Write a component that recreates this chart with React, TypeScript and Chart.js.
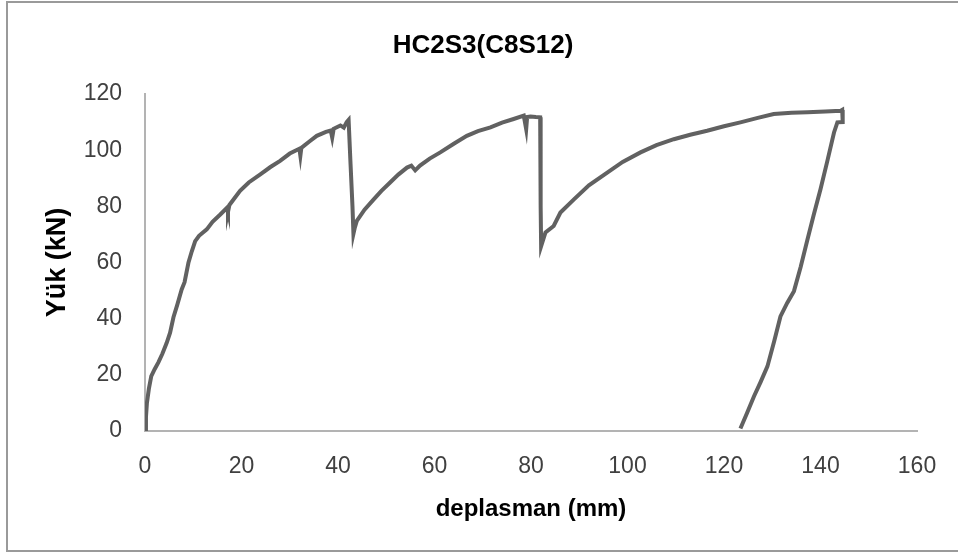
import React, { useEffect, useRef } from "react";
import { Chart, registerables } from "chart.js";

Chart.register(...registerables);

const chartTitle = "HC2S3(C8S12)";
const xAxisTitle = "deplasman (mm)";
const yAxisTitle = "Yük (kN)";

const xTicks = { min: 0, max: 160, step: 20 };
const yTicks = { min: 0, max: 120, step: 20 };

// displacement (mm)
const deplasman = [
  0, 0.2, 0.4, 0.8, 1.3, 2.0, 2.8, 3.6, 4.5, 5.2, 5.9, 6.7, 7.6, 8.2, 9.0, 9.7, 10.4, 11.2, 12.8, 14.0,
  15.6, 17.0, 17.2, 17.5, 19.7, 21.5, 23.9, 26.0, 28.0, 30.0, 32.0, 32.2, 32.4, 34.0, 35.6, 37.5, 38.5,
  38.8, 39.1, 40.5, 41.2, 41.8, 42.2, 42.6, 43.0, 43.2,
  43.5, 43.9, 45.5, 47.4, 49.0, 50.8, 52.5, 54.3, 55.2, 56.0, 57.0, 59.0, 61.2, 64.0, 66.7, 69.0, 71.6,
  74.0, 76.4, 78.5, 79.0, 79.2, 79.9, 81.0, 81.9, 82.0, 82.0, 82.1,
  83.0, 84.7, 86.1, 88.9, 92.0, 95.8, 99.0, 102.7, 106.0, 109.6, 113.0, 116.5, 120.0, 123.4, 127.0,
  130.3, 134.0, 137.3, 141.0, 144.2, 144.5, 144.6,
  143.5, 142.8, 141.4, 140.0, 138.6, 137.3, 135.9, 134.5, 133.1, 131.7, 130.4, 129.0, 127.6, 126.2,
  124.8, 123.4,
];

// load (kN)
const yuk = [
  0, 5, 10, 15, 19.5, 22, 24.5, 27.5, 31.4, 35, 40.5, 45, 50.4, 53, 59.9, 64, 67.6, 69.5, 71.8, 74.5,
  77.1, 79.5, 78, 80.5, 85.5, 88.5, 91.4, 94, 96.2, 98.8, 100.5, 98, 100.8, 103, 105.1, 106.5, 107,
  104.5, 107.6, 108.8, 108, 110, 110.8, 95, 80, 70.2,
  72.5, 74.8, 78.8, 82.5, 85.5, 88.5, 91.3, 93.8, 94.5, 92.8, 94.5, 97, 99.2, 102.3, 105.1, 106.8, 108.1,
  109.8, 111.1, 112.3, 107.5, 111.8, 112, 111.8, 111.7, 95, 80, 65.8,
  70.7, 73, 77.8, 82.5, 87.5, 92, 95.8, 99.2, 101.8, 103.9, 105.5, 106.9, 108.5, 109.9, 111.5,
  112.9, 113.3, 113.5, 113.8, 114, 114.3, 110,
  109.9, 106.3, 96, 86.1, 77, 68.2, 58.5, 49.8, 45.6, 40.8, 32, 23, 17.5, 12.3,
  6.5, 0.9,
];

const FONT = "'Liberation Sans', Arial, sans-serif";

export default function App() {
  const ref = useRef<HTMLCanvasElement | null>(null);

  useEffect(() => {
    if (!ref.current) return;
    const points = deplasman.map((x, i) => ({ x, y: yuk[i] }));
    const chart = new Chart(ref.current, {
      type: "scatter",
      data: {
        datasets: [
          {
            data: points,
            showLine: true,
            borderColor: "#616161",
            backgroundColor: "#616161",
            borderWidth: 4,
            pointRadius: 0,
            tension: 0,
          },
        ],
      },
      options: {
        animation: false,
        responsive: false,
        maintainAspectRatio: false,
        layout: { padding: { left: 8, right: 0, top: 0, bottom: 0 } },
        plugins: {
          legend: { display: false },
          tooltip: { enabled: false },
          title: {
            display: true,
            text: chartTitle,
            color: "#000000",
            font: { family: FONT, size: 26, weight: "bold" },
            padding: { top: 30.4, bottom: 32.4 },
          },
        },
        scales: {
          x: {
            type: "linear",
            min: xTicks.min,
            max: xTicks.max,
            afterFit: (s: any) => {
              s.height = 126;
              s.paddingRight = 41;
              s.paddingLeft = 0;
            },
            ticks: {
              stepSize: xTicks.step,
              color: "#404040",
              padding: 22,
              font: { family: FONT, size: 23 },
            },
            grid: { display: false, drawTicks: false },
            border: { display: true, color: "#b3b3b3", width: 2 },
            title: {
              display: true,
              text: xAxisTitle,
              color: "#000000",
              font: { family: FONT, size: 24, weight: "bold" },
              padding: { top: 0, bottom: 33.6 },
            },
          },
          y: {
            type: "linear",
            min: yTicks.min,
            max: yTicks.max,
            afterFit: (s: any) => {
              s.width = 137;
            },
            ticks: {
              stepSize: yTicks.step,
              color: "#404040",
              padding: 23,
              font: { family: FONT, size: 23 },
            },
            grid: { display: false, drawTicks: false },
            border: { display: true, color: "#b3b3b3", width: 2 },
            title: {
              display: true,
              text: yAxisTitle,
              color: "#000000",
              font: { family: FONT, size: 27, weight: "bold" },
              padding: { top: 33.8, bottom: 0 },
            },
          },
        },
      },
    });
    return () => chart.destroy();
  }, []);

  return (
    <div style={{ position: "fixed", left: 0, top: 0, width: 958, height: 557, background: "#fff" }}>
      <canvas ref={ref} width={958} height={557} style={{ position: "absolute", left: 0, top: 0, width: 958, height: 557 }} />
      <div
        style={{
          position: "absolute",
          left: 6,
          top: 1,
          width: 960,
          height: 551,
          border: "2px solid #9a9a9a",
          boxSizing: "border-box",
          pointerEvents: "none",
        }}
      />
    </div>
  );
}
